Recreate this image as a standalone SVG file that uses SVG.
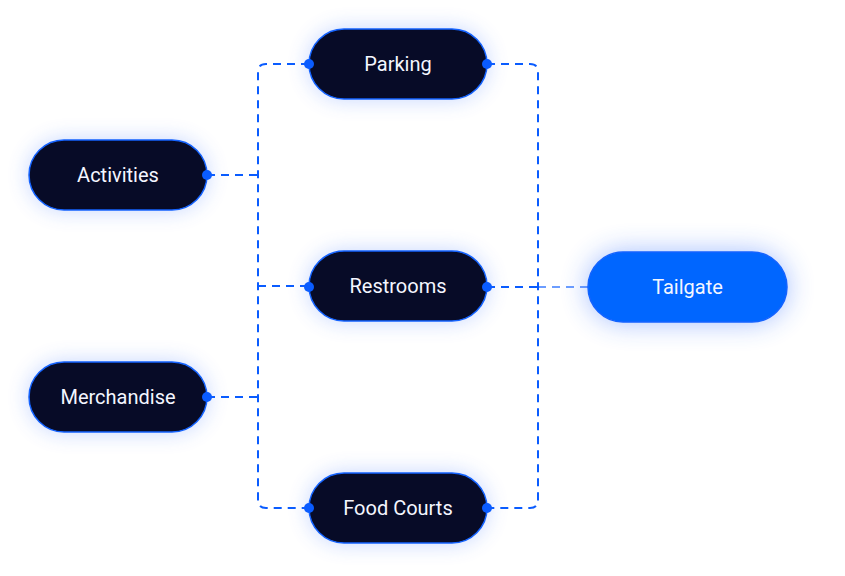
<svg xmlns="http://www.w3.org/2000/svg" width="845" height="576" viewBox="0 0 845 576">
<defs>
<filter id="glow" x="-50%" y="-100%" width="200%" height="300%">
<feGaussianBlur stdDeviation="11"/>
</filter>
<filter id="glow2" x="-50%" y="-100%" width="200%" height="300%">
<feGaussianBlur stdDeviation="14"/>
</filter>
</defs>
<style>
.node{fill:#070b27;stroke:#1463ff;stroke-width:1.5}
.halo{fill:#3a72ff;opacity:0.3}
.lbl{font-family:Roboto,"Liberation Sans",sans-serif;font-size:20px;fill:#f4f6ff;text-anchor:middle;dominant-baseline:central}
.edge{fill:none;stroke:#0a5cff;stroke-width:2;stroke-dasharray:8 6}
.dot{fill:#0a5cff}
</style>
<rect width="845" height="576" fill="#ffffff"/>
<g id="connectors">
<path class="edge" d="M309 64 H266 Q258 64 258 72 V500 Q258 508 266 508 H309"/>
<path class="edge" d="M207 175 H258"/>
<path class="edge" d="M207 397 H258"/>
<path class="edge" d="M258 286 H309"/>
<path class="edge" d="M487 64 H530 Q538 64 538 72 V500 Q538 508 530 508 H487"/>
<path class="edge" d="M487 287 H538"/>
<path class="edge" d="M538 287 H588" opacity="0.6"/>
</g>
<g id="activities">
<rect class="halo" x="29" y="140" width="178" height="70" rx="35" filter="url(#glow)"/>
<rect class="node" x="29" y="140" width="178" height="70" rx="35"/>
<text class="lbl" x="118" y="175">Activities</text>
<circle class="dot" cx="207" cy="175" r="5"/>
</g>
<g id="merchandise">
<rect class="halo" x="29" y="362" width="178" height="70" rx="35" filter="url(#glow)"/>
<rect class="node" x="29" y="362" width="178" height="70" rx="35"/>
<text class="lbl" x="118" y="397">Merchandise</text>
<circle class="dot" cx="207" cy="397" r="5"/>
</g>
<g id="parking">
<rect class="halo" x="309" y="29" width="178" height="70" rx="35" filter="url(#glow)"/>
<rect class="node" x="309" y="29" width="178" height="70" rx="35"/>
<text class="lbl" x="398" y="64">Parking</text>
<circle class="dot" cx="309" cy="64" r="5"/>
<circle class="dot" cx="487" cy="64" r="5"/>
</g>
<g id="restrooms">
<rect class="halo" x="309" y="251" width="178" height="70" rx="35" filter="url(#glow)"/>
<rect class="node" x="309" y="251" width="178" height="70" rx="35"/>
<text class="lbl" x="398" y="286">Restrooms</text>
<circle class="dot" cx="309" cy="287" r="5"/>
<circle class="dot" cx="487" cy="287" r="5"/>
</g>
<g id="food-courts">
<rect class="halo" x="309" y="473" width="178" height="70" rx="35" filter="url(#glow)"/>
<rect class="node" x="309" y="473" width="178" height="70" rx="35"/>
<text class="lbl" x="398" y="508">Food Courts</text>
<circle class="dot" cx="309" cy="508" r="5"/>
<circle class="dot" cx="487" cy="508" r="5"/>
</g>
<g id="tailgate">
<rect x="588" y="252" width="199" height="70" rx="35" fill="#2f6bff" opacity="0.45" filter="url(#glow2)"/>
<rect x="588" y="252" width="199" height="70" rx="35" fill="#0066ff" stroke="#1463ff" stroke-width="1.5"/>
<text class="lbl" x="687.5" y="287">Tailgate</text>
</g>
</svg>
